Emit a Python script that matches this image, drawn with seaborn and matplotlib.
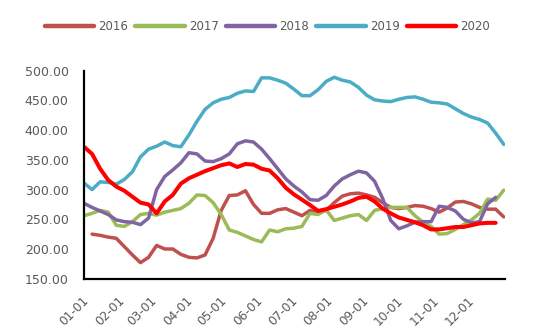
import numpy as np
import pandas as pd
import matplotlib
matplotlib.use("Agg")
import matplotlib.pyplot as plt
import matplotlib.transforms as mtransforms
import seaborn as sns

# ---- data (weekly values) ----
years = ["2016", "2017", "2018", "2019", "2020"]
colors = ["#C0504D", "#9BBB59", "#8064A2", "#4BACC6", "#FF0000"]

# first week index of each series (week k -> day 7*k of the year)
start_week = {"2016": 1, "2017": 0, "2018": 0, "2019": 0, "2020": 0}

v2016 = [225, 223, 220, 218, 204, 190, 177, 186, 206, 200, 200, 191, 186, 185,
         190, 218, 265, 290, 291, 298, 275, 260, 260, 266, 268, 262, 256, 265,
         261, 265, 278, 289, 293, 294, 291, 287, 278, 270, 268, 270, 273, 272,
         268, 262, 269, 279, 280, 276, 270, 267, 267, 254]
v2017 = [256, 260, 265, 262, 240, 238, 246, 258, 260, 257, 262, 265, 268, 277,
         291, 290, 278, 258, 232, 228, 222, 216, 212, 232, 229, 234, 235, 238,
         260, 258, 266, 248, 252, 256, 258, 248, 265, 268, 270, 270, 270, 256,
         245, 238, 225, 226, 233, 241, 249, 260, 284, 282, 299]
v2018 = [277, 270, 264, 258, 249, 246, 245, 241, 252, 300, 322, 333, 345, 362,
         360, 348, 347, 352, 360, 377, 382, 380, 368, 352, 335, 318, 306, 296,
         283, 282, 290, 306, 318, 325, 331, 328, 314, 285, 248, 234, 239, 245,
         246, 246, 272, 270, 264, 250, 244, 246, 276, 287]
v2019 = [311, 300, 313, 312, 309, 317, 330, 355, 368, 373, 380, 374, 372, 392,
         415, 435, 446, 452, 455, 462, 466, 465, 488, 488, 484, 479, 469, 458,
         458, 468, 482, 489, 484, 481, 472, 459, 451, 449, 448, 452, 455, 456,
         452, 447, 446, 444, 436, 428, 422, 418, 412, 395, 376]
v2020 = [372, 360, 335, 316, 305, 298, 288, 278, 275, 260, 280, 291, 310, 319,
         325, 331, 336, 341, 344, 338, 343, 342, 335, 332, 319, 303, 292, 283,
         274, 264, 267, 271, 275, 280, 286, 288, 280, 268, 260, 253, 249, 245,
         240, 233, 233, 235, 237, 237, 240, 243, 244, 244]
values = {"2016": v2016, "2017": v2017, "2018": v2018, "2019": v2019, "2020": v2020}

month_ticks = [0, 31, 59, 90, 120, 151, 181, 212, 243, 273, 304, 334, 365]
month_labels = ["01-01", "02-01", "03-01", "04-01", "05-01", "06-01",
                "07-01", "08-01", "09-01", "10-01", "11-01", "12-01", ""]
yticks = [150, 200, 250, 300, 350, 400, 450, 500]

# ---- long table ----
rows = []
for y in years:
    for i, v in enumerate(values[y]):
        rows.append({"day": 7 * (start_week[y] + i), "value": v, "year": y})
df = pd.DataFrame(rows)

sns.set_style("white")
plt.rcParams["font.family"] = ["DejaVu Sans"]

fig = plt.figure(figsize=(5.5, 3.32), dpi=100)
ax = fig.add_axes([0.1527, 0.1605, 0.918 - 0.1527, 0.787 - 0.1605])

widths = {"2016": 2.5, "2017": 2.5, "2018": 2.5, "2019": 2.5, "2020": 2.9}
for y, c in zip(years, colors):
    sub = df[df["year"] == y]
    sns.lineplot(data=sub, x="day", y="value", color=c, linewidth=widths[y],
                 label=y, ax=ax, estimator=None, sort=True)

ax.set_xlim(0, 365)
ax.set_ylim(150, 500)
ax.set_xlabel("")
ax.set_ylabel("")
ax.set_yticks(yticks)
ax.set_yticklabels([f"{t:.2f}" for t in yticks])
ax.set_xticks(month_ticks)
ax.set_xticklabels(month_labels, rotation=45, ha="right", va="top",
                   rotation_mode="anchor")

for side in ["top", "right"]:
    ax.spines[side].set_visible(False)
for side in ["left", "bottom"]:
    ax.spines[side].set_color("black")
    ax.spines[side].set_linewidth(1.6)

ax.tick_params(axis="both", direction="in", length=4, width=1.6, color="black",
               labelsize=9, labelcolor="#595959")
ax.tick_params(axis="y", pad=11)
ax.tick_params(axis="x", pad=11, labelsize=8.7)
ax.grid(False)

shift = mtransforms.ScaledTranslation(-2 / 100, 0, fig.dpi_scale_trans)
for lbl in ax.get_xticklabels():
    lbl.set_transform(lbl.get_transform() + shift)

handles, labels = ax.get_legend_handles_labels()
ax.get_legend().remove()
leg = fig.legend(handles, labels, loc="center", bbox_to_anchor=(0.486, 0.92),
                 ncol=5, frameon=False, fontsize=8.5, handlelength=4.2,
                 handletextpad=0.34, columnspacing=0.6)
for t in leg.get_texts():
    t.set_color("#595959")
for h in leg.get_lines():
    h.set_linewidth(3.2)

fig.savefig("out.png", dpi=100, facecolor="white")
